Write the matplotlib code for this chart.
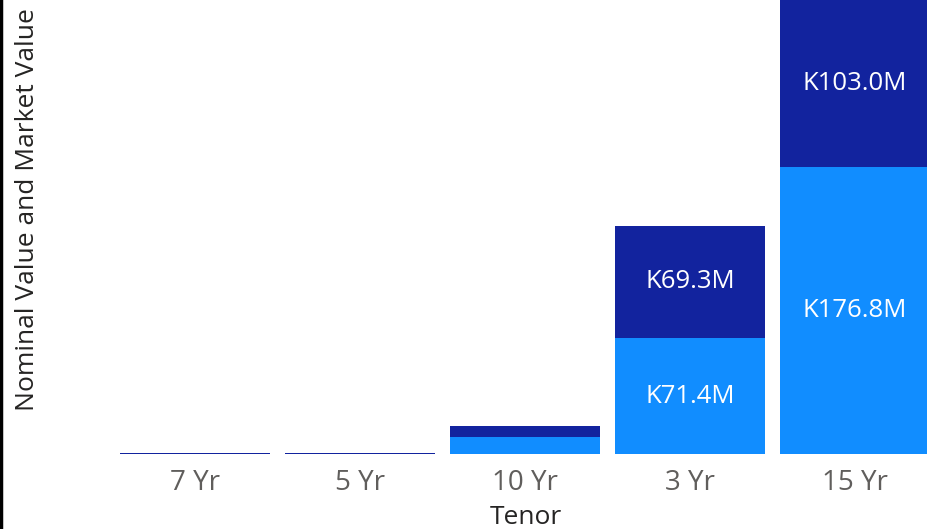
import matplotlib
matplotlib.use("Agg")
import matplotlib.pyplot as plt
from matplotlib.lines import Line2D

categories = ["7 Yr", "5 Yr", "10 Yr", "3 Yr", "15 Yr"]
market_value = [0.0, 0.0, 10.5, 71.4, 176.8]
nominal_value = [0.9, 0.9, 6.8, 69.3, 103.0]
market_labels = ["", "", "", "K71.4M", "K176.8M"]
nominal_labels = ["", "", "", "K69.3M", "K103.0M"]

LIGHT = "#118DFF"
DARK = "#12239E"
FONT = ["Open Sans", "DejaVu Sans"]

W, H = 927, 529
fig = plt.figure(figsize=(W / 100, H / 100), dpi=100)
ax = fig.add_axes([0, 75 / H, 1, 454 / H])

x = list(range(len(categories)))
width = 150 / 165
ax.bar(x, market_value, width=width, color=LIGHT, linewidth=0)
ax.bar(x, nominal_value, width=width, bottom=market_value, color=DARK, linewidth=0)

for i in x:
    if market_labels[i]:
        ax.text(i, market_value[i] / 2, market_labels[i], ha="center", va="center",
                color="white", fontsize=18.5, family=FONT)
    if nominal_labels[i]:
        ax.text(i, market_value[i] + nominal_value[i] / 2, nominal_labels[i],
                ha="center", va="center", color="white", fontsize=18.5, family=FONT)

ax.set_xlim(-195 / 165, (W - 195) / 165)
ax.set_ylim(0, max(m + n for m, n in zip(market_value, nominal_value)))
ax.set_xticks(x)
ax.set_xticklabels(categories, fontsize=20, color="#605E5C", family=FONT)
ax.tick_params(axis="x", length=0, pad=11)
ax.set_yticks([])
for s in ax.spines.values():
    s.set_visible(False)

fig.text(526 / W, 1 - 517 / H, "Tenor", ha="center", va="center", fontsize=19,
         color="#252423", family=FONT)
fig.text(28 / W, 1 - 210 / H, "Nominal Value and Market Value", ha="center", va="center",
         rotation=90, fontsize=19, color="#252423", family=FONT)

fig.add_artist(Line2D([1 / W, 1 / W], [0, 1], color="black", linewidth=2.5,
                      transform=fig.transFigure))

fig.savefig("out.png", dpi=100)
